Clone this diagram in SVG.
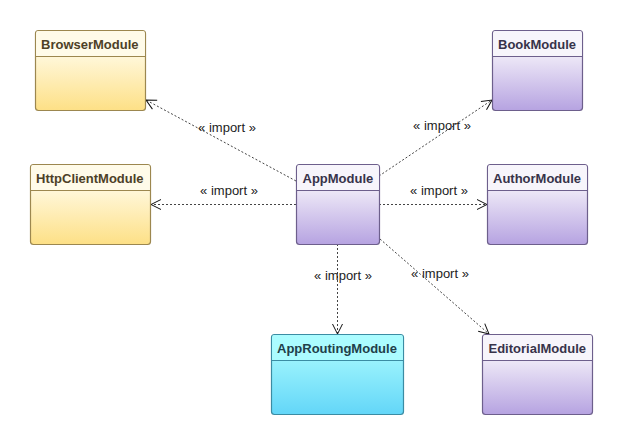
<svg xmlns="http://www.w3.org/2000/svg" width="622" height="444" viewBox="0 0 622 444">
<style>
.box{stroke-width:1.2}
.y{fill:url(#gy);stroke:#9c874f}
.p{fill:url(#gp);stroke:#6d5f8c}
.c{fill:url(#gc);stroke:#3b8ca3}
.ty{font:bold 13px "Liberation Sans",Arial,sans-serif;fill:#4d4127}
.tp{font:bold 13px "Liberation Sans",Arial,sans-serif;fill:#37334a}
.tc{font:bold 13px "Liberation Sans",Arial,sans-serif;fill:#21404a}
.sy{stroke:#9c874f;stroke-width:1}
.sp{stroke:#6d5f8c;stroke-width:1}
.sc{stroke:#3b8ca3;stroke-width:1}
.hy{fill:#fffbe9}
.hp{fill:#f7f5fb}
.hc{fill:#abfcff}
.edge{fill:none;stroke:#444;stroke-width:1;stroke-dasharray:2 2;marker-end:url(#arr)}
.lbl{font:13px "Liberation Sans",Arial,sans-serif;fill:#222;text-anchor:middle}
</style>
<defs>
<linearGradient id="gy" x1="0" y1="0" x2="0" y2="1"><stop offset="0" stop-color="#fffdf3"/><stop offset="0.35" stop-color="#fff6d6"/><stop offset="1" stop-color="#fde086"/></linearGradient>
<linearGradient id="gp" x1="0" y1="0" x2="0" y2="1"><stop offset="0" stop-color="#ffffff"/><stop offset="0.35" stop-color="#ebe5f6"/><stop offset="1" stop-color="#b6a3e1"/></linearGradient>
<linearGradient id="gc" x1="0" y1="0" x2="0" y2="1"><stop offset="0" stop-color="#b3ffff"/><stop offset="1" stop-color="#63d6f8"/></linearGradient>
<marker id="arr" viewBox="0 0 12 12" refX="11" refY="6" markerWidth="12" markerHeight="12" markerUnits="userSpaceOnUse" orient="auto">
<path d="M1,1 L11,6 L1,11" fill="none" stroke="#111" stroke-width="1"/>
</marker>
</defs>
<g id="connectors">
<line class="edge" x1="296" y1="181" x2="146" y2="100"/>
<line class="edge" x1="379" y1="176" x2="492" y2="100"/>
<line class="edge" x1="296" y1="204.5" x2="151" y2="204.5"/>
<line class="edge" x1="379" y1="204.5" x2="487" y2="204.5"/>
<line class="edge" x1="337.5" y1="244" x2="337.5" y2="334"/>
<line class="edge" x1="380" y1="239" x2="489" y2="334"/>
<text class="lbl" x="227" y="132">« import »</text>
<text class="lbl" x="442" y="130">« import »</text>
<text class="lbl" x="229" y="195">« import »</text>
<text class="lbl" x="439" y="195">« import »</text>
<text class="lbl" x="343" y="280">« import »</text>
<text class="lbl" x="440" y="278">« import »</text>
</g>
<g id="BrowserModule">
<rect class="box y" x="35.5" y="30.5" width="110" height="80" rx="3"/>
<path class="hy" d="M36.1,33.5 a2.4,2.4 0 0 1 2.4,-2.4 h104 a2.4,2.4 0 0 1 2.4,2.4 v23 h-108.8z"/>
<line class="sy" x1="35.5" y1="56.5" x2="145.5" y2="56.5"/>
<text class="ty" x="41" y="49">BrowserModule</text>
</g>
<g id="BookModule">
<rect class="box p" x="492.5" y="30.5" width="90" height="80" rx="3"/>
<path class="hp" d="M493.1,33.5 a2.4,2.4 0 0 1 2.4,-2.4 h84 a2.4,2.4 0 0 1 2.4,2.4 v23 h-88.8z"/>
<line class="sp" x1="492.5" y1="56.5" x2="582.5" y2="56.5"/>
<text class="tp" x="498" y="49">BookModule</text>
</g>
<g id="HttpClientModule">
<rect class="box y" x="30.5" y="164.5" width="120" height="80" rx="3"/>
<path class="hy" d="M31.1,167.5 a2.4,2.4 0 0 1 2.4,-2.4 h114 a2.4,2.4 0 0 1 2.4,2.4 v23 h-118.8z"/>
<line class="sy" x1="30.5" y1="190.5" x2="150.5" y2="190.5"/>
<text class="ty" x="36" y="183">HttpClientModule</text>
</g>
<g id="AppModule">
<rect class="box p" x="296.5" y="164.5" width="83" height="80" rx="3"/>
<path class="hp" d="M297.1,167.5 a2.4,2.4 0 0 1 2.4,-2.4 h77 a2.4,2.4 0 0 1 2.4,2.4 v23 h-81.8z"/>
<line class="sp" x1="296.5" y1="190.5" x2="379.5" y2="190.5"/>
<text class="tp" x="302.5" y="183">AppModule</text>
</g>
<g id="AuthorModule">
<rect class="box p" x="487.5" y="164.5" width="100" height="80" rx="3"/>
<path class="hp" d="M488.1,167.5 a2.4,2.4 0 0 1 2.4,-2.4 h94 a2.4,2.4 0 0 1 2.4,2.4 v23 h-98.8z"/>
<line class="sp" x1="487.5" y1="190.5" x2="587.5" y2="190.5"/>
<text class="tp" x="493" y="183">AuthorModule</text>
</g>
<g id="AppRoutingModule">
<rect class="box c" x="271.5" y="334.5" width="132" height="80" rx="3"/>
<path class="hc" d="M272.1,337.5 a2.4,2.4 0 0 1 2.4,-2.4 h126 a2.4,2.4 0 0 1 2.4,2.4 v23 h-130.8z"/>
<line class="sc" x1="271.5" y1="360.5" x2="403.5" y2="360.5"/>
<text class="tc" x="277" y="353">AppRoutingModule</text>
</g>
<g id="EditorialModule">
<rect class="box p" x="482.5" y="334.5" width="110" height="80" rx="3"/>
<path class="hp" d="M483.1,337.5 a2.4,2.4 0 0 1 2.4,-2.4 h104 a2.4,2.4 0 0 1 2.4,2.4 v23 h-108.8z"/>
<line class="sp" x1="482.5" y1="360.5" x2="592.5" y2="360.5"/>
<text class="tp" x="488.5" y="353">EditorialModule</text>
</g>
</svg>
